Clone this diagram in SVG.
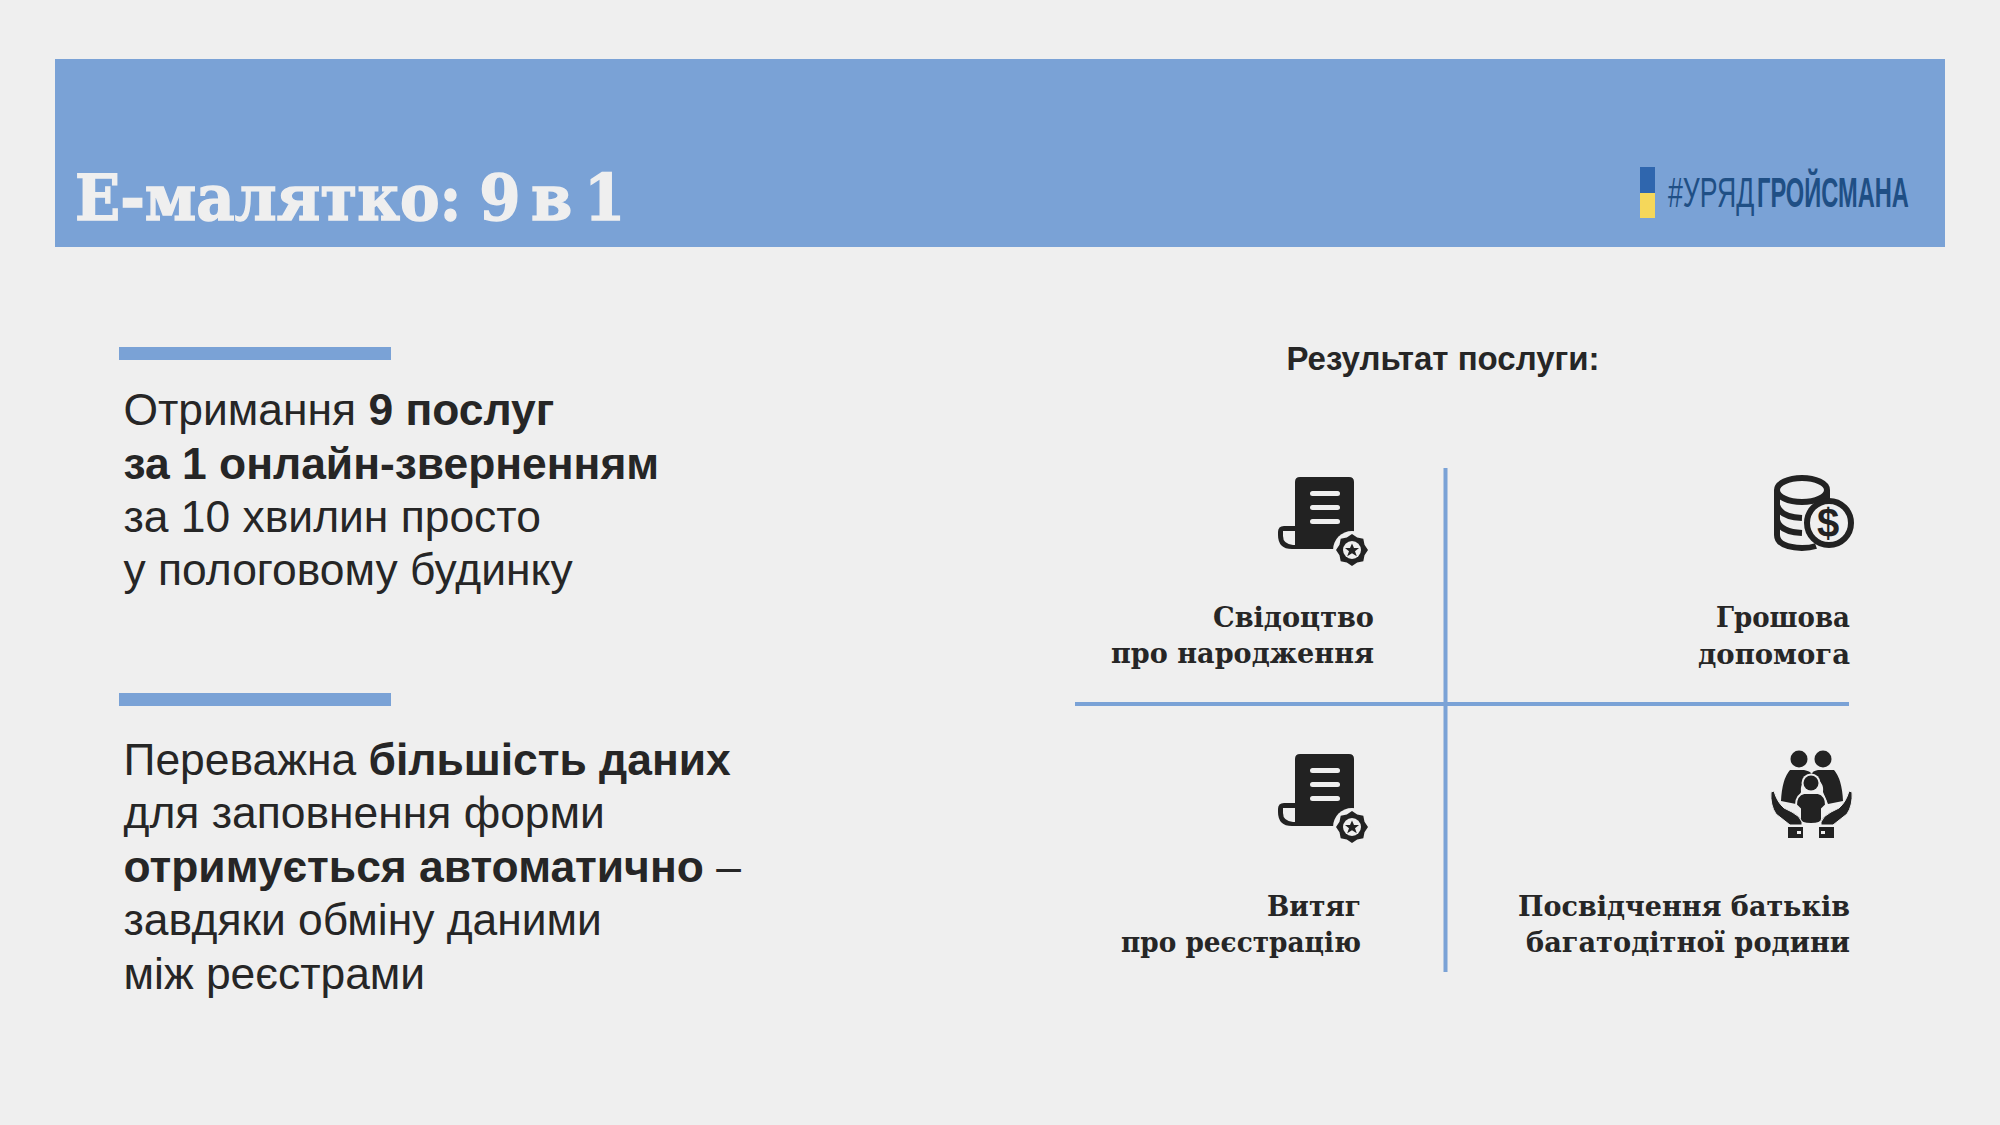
<svg xmlns="http://www.w3.org/2000/svg" width="2000" height="1125" viewBox="0 0 2000 1125">
<style>
.b{font-family:"Liberation Sans",Arial,sans-serif;font-size:44.4px;fill:#262626}
.s{font-weight:700}
.h{font-family:"DejaVu Serif",serif;font-weight:700;font-size:27px;fill:#262626;text-anchor:end}
.bar{fill:#7aa2d6}
.i{fill:#222}
.gl{fill:#efefef}
.c{font-family:"Liberation Sans",sans-serif;font-size:43px;fill:#1f4f85}
</style>
<defs>
<g id="doc">
<path class="i" d="M1295 482q0-5 5-5h49q5 0 5 5v67h-62v-23h3z"/>
<path class="i" d="M1284 526h11v23h-3q-14 0-14-14v-3q0-6 6-6z"/>
<path class="gl" d="M1283 531h12v14h-2q-10-1-10-9z"/>
<rect class="gl" x="1310" y="491" width="30" height="5" rx="2.500"/>
<rect class="gl" x="1310" y="505" width="30" height="5" rx="2.500"/>
<rect class="gl" x="1310" y="519" width="30" height="5" rx="2.500"/>
<circle class="gl" cx="1352" cy="550" r="19"/>
<polygon class="i" points="1352,534 1357.2,537.5 1363.3,538.7 1364.5,544.8 1368,550 1364.5,555.2 1363.3,561.3 1357.2,562.5 1352,566 1346.8,562.5 1340.7,561.3 1339.5,555.2 1336,550 1339.5,544.8 1340.7,538.7 1346.8,537.5"/>
<circle class="gl" cx="1352" cy="550" r="9"/>
<path class="i" d="M1352 543.500l2 4.500h5l-4 3.200 1.800 5-4.800-3-4.800 3 1.800-5-4-3.200h5z"/>
</g>
</defs>
<rect width="2000" height="1125" fill="#efefef"/>
<rect class="bar" x="55" y="59" width="1890" height="188"/>
<text id="title" transform="translate(75 220) scale(.927 1)" font-family="'DejaVu Serif',serif" font-weight="700" font-size="64" fill="#efefef" stroke="#efefef" stroke-width="1.500" word-spacing="-10">Е-малятко: <tspan x="436">9</tspan> <tspan x="492">в</tspan> <tspan x="549">1</tspan></text>
<g id="logo">
<rect x="1640" y="167" width="15" height="26" fill="#2f66ae"/>
<rect x="1640" y="193" width="15" height="25" fill="#f5d75a"/>
<text class="c" transform="translate(1668 207) scale(.62 1)">#УРЯД</text>
<text class="c s" transform="translate(1757 207) scale(.55 1)">ГРОЙСМАНА</text>
</g>
<g id="block1">
<rect class="bar" x="119" y="347" width="272" height="13"/>
<text class="b" x="123.500" y="424.500">Отримання <tspan class="s">9 послуг</tspan></text>
<text class="b s" x="123.500" y="478.500">за 1 онлайн-зверненням</text>
<text class="b" x="123.500" y="531.500">за 10 хвилин просто</text>
<text class="b" x="123.500" y="585">у пологовому будинку</text>
</g>
<g id="block2">
<rect class="bar" x="119" y="693" width="272" height="13"/>
<text class="b" x="123.500" y="775">Переважна <tspan class="s">більшість даних</tspan></text>
<text class="b" x="123.500" y="828">для заповнення форми</text>
<text class="b" x="123.500" y="882"><tspan class="s">отримується автоматично</tspan> –</text>
<text class="b" x="123.500" y="935">завдяки обміну даними</text>
<text class="b" x="123.500" y="988.500">між реєстрами</text>
</g>
<text id="result" x="1443" y="370" font-family="'Liberation Sans',sans-serif" font-weight="700" font-size="33" fill="#262626" text-anchor="middle">Результат послуги:</text>
<g id="connectors" stroke="#7aa2d6" stroke-width="4" fill="none">
<path d="M1445.500 468V972"/>
<path d="M1075 704H1849"/>
</g>
<g id="n1"><use href="#doc"/>
<text class="h" x="1374" y="627" textLength="161" lengthAdjust="spacingAndGlyphs">Свідоцтво</text><text class="h" x="1374" y="663" textLength="263" lengthAdjust="spacingAndGlyphs">про народження</text></g>
<g id="n2">
<g fill="none" stroke="#222" stroke-width="6">
<ellipse cx="1802" cy="490" rx="25" ry="12"/>
<path d="M1777 490V535q0 12 25 13q8 0 14-2M1777 505q3 12 25 13M1777 520q3 12 25 13"/>
<path d="M1827 490v12"/>
<circle cx="1829" cy="523" r="22" fill="#efefef"/>
</g>
<text x="1828" y="537" font-family="'Liberation Sans',sans-serif" font-weight="700" font-size="40" fill="#222" text-anchor="middle">$</text>
<text class="h" x="1850" y="627" textLength="134" lengthAdjust="spacingAndGlyphs">Грошова</text><text class="h" x="1850" y="664" textLength="152" lengthAdjust="spacingAndGlyphs">допомога</text></g>
<g id="n3"><use href="#doc" y="277"/>
<text class="h" x="1361" y="916" textLength="94" lengthAdjust="spacingAndGlyphs">Витяг</text><text class="h" x="1361" y="952" textLength="240" lengthAdjust="spacingAndGlyphs">про реєстрацію</text></g>
<g id="n4" class="i">
<circle cx="1799" cy="759" r="8.500"/><circle cx="1823" cy="759" r="8.500"/>
<path d="M1790 770h14q6 1 8 4v3a13 13 0 0 0-11 15l-5 12-15-3q1-22 9-31zM1832 770h-14q-6 1-6 4v3a13 13 0 0 1 11 15l5 12 15-3q-1-22-9-31z"/>
<circle cx="1811" cy="783" r="9.500" fill="#efefef"/>
<circle cx="1811" cy="783" r="7.500"/>
<path d="M1804 793h14q8 2 8 12l-4 4v10q0 5-11 5t-11-5v-10l-4-4q0-10 8-12z" stroke="#efefef" stroke-width="2"/>
<path d="M1771 792l3-1q3 11 10 17l8 4q8 4 10 10v3h-12l-14-11q-6-9-5-22zM1852 792l-3-1q-3 11-10 17l-8 4q-8 4-10 10v3h12l14-11q6-9 5-22z" stroke="#efefef" stroke-width="1"/>
<path fill-rule="evenodd" d="M1788 827h15v11h-15zM1797 831v3h4v-3zM1819 827h15v11h-15zM1821 831v3h4v-3z"/>
<text class="h" x="1850" y="916" textLength="332" lengthAdjust="spacingAndGlyphs">Посвідчення батьків</text><text class="h" x="1850" y="952" textLength="324" lengthAdjust="spacingAndGlyphs">багатодітної родини</text></g>
</svg>
